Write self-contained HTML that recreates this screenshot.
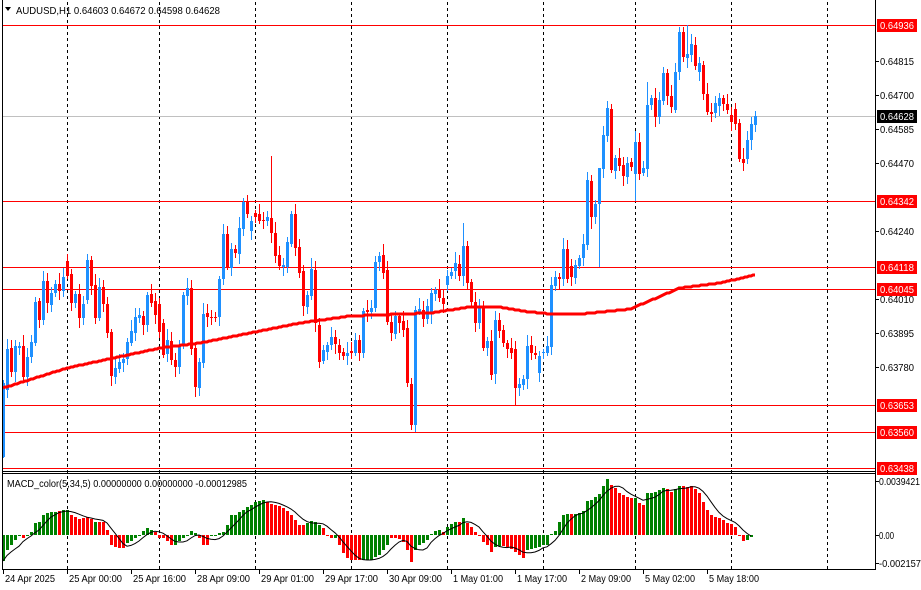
<!DOCTYPE html>
<html><head><meta charset="utf-8"><style>
html,body{margin:0;padding:0;background:#fff;width:921px;height:590px;overflow:hidden}
svg{display:block;font-family:"Liberation Sans",sans-serif}
</style></head><body>
<svg id="s" width="921" height="590" viewBox="0 0 921 590" xmlns="http://www.w3.org/2000/svg">
<rect width="921" height="590" fill="#fff"/>
<g id="grid" stroke="#000" stroke-width="1" stroke-dasharray="3,3"></g>
<g id="hl"></g>
<g id="cd"></g>
<polyline id="ma" fill="none" stroke="#ff0000" stroke-width="3"/>
<g id="mh"></g>
<polyline id="sig" fill="none" stroke="#000" stroke-width="1"/>
<g id="fr" fill="none" stroke="#000"></g>
<g id="tx" font-size="10.5" fill="#000"></g>
</svg>
<script>
var NS="http://www.w3.org/2000/svg";
function el(p,t,a,txt){var e=document.createElementNS(NS,t);for(var k in a)e.setAttribute(k,a[k]);if(txt!=null)e.textContent=txt;document.getElementById(p).appendChild(e);return e;}
[67,159,255,351,447,543,635,731,827].forEach(function(x){el("grid","line",{x1:x+.5,y1:2,x2:x+.5,y2:569});});
el("hl","line",{x1:3,y1:116.5,x2:875,y2:116.5,stroke:"#c0c0c0"});
[25,201,267,289,405,432,468].forEach(function(y){el("hl","line",{x1:3,y1:y+.5,x2:875,y2:y+.5,stroke:"#ff0000"});});
var C="383,457,b;349,390,b;348,372,r;346,372,b;346,348,b;346,377,r;357,377,b;342,357,b;302,343,b;301,320,r;281,320,b;281,303,r;293,305,b;284,293,b;284,291,r;277,291,b;261,276,r;274,303,r;294,303,b;294,318,r;304,318,b;260,300,b;260,286,r;285,318,r;287,318,b;287,304,r;304,333,r;332,376,r;368,377,b;362,369,b;359,363,b;342,359,b;331,343,b;317,333,b;315,318,b;316,325,r;295,325,b;294,303,r;301,315,r;304,332,r;323,355,r;340,354,b;341,360,r;360,367,r;345,367,b;295,345,b;288,296,b;288,349,r;348,387,r;362,388,b;314,363,b;313,317,r;317,318,r;317,318,r;279,317,b;234,279,b;234,267,r;249,268,b;249,253,r;228,254,b;202,229,b;202,214,r;221,231,b;213,217,r;214,221,r;220,221,r;217,221,b;218,233,r;233,256,r;255,266,r;265,267,b;242,267,b;214,244,b;214,248,r;247,273,r;271,306,r;295,307,b;269,296,b;270,323,r;325,362,r;350,361,b;345,352,b;337,345,b;337,344,r;345,353,r;352,356,r;353,356,b;351,353,r;340,353,b;340,353,r;311,353,b;310,312,r;308,312,b;262,308,b;256,262,b;255,273,r;270,322,r;322,333,r;316,334,b;316,323,r;321,330,r;328,383,r;384,425,r;310,425,b;309,312,b;310,319,r;306,319,b;293,314,b;290,294,b;289,298,r;298,304,r;276,285,b;272,276,b;263,271,b;264,276,r;246,276,b;246,283,r;282,302,r;302,323,r;307,323,b;307,348,r;341,348,b;341,375,r;320,374,b;320,331,r;330,343,r;343,349,r;348,353,r;349,388,r;384,388,b;379,385,b;346,379,b;345,353,r;353,355,r;356,373,b;352,353,b;346,353,b;285,347,b;277,286,b;277,279,r;249,279,b;249,279,r;266,277,r;265,278,b;258,266,b;244,258,b;180,245,b;181,217,r;204,217,b;168,204,b;135,169,b;108,136,b;109,170,r;158,171,b;158,166,r;165,176,r;163,177,b;162,167,r;142,174,b;142,174,r;168,173,b;105,169,b;98,105,b;98,117,r;100,117,b;73,101,b;73,96,r;96,107,r;72,110,b;32,72,b;32,57,r;54,58,b;44,55,b;45,66,r;63,72,b;65,94,r;94,112,r;112,114,r;103,113,b;98,106,b;98,104,r;104,110,r;115,122,r;109,124,r;123,159,r;159,163,r;140,159,b;124,140,b;116,125,b".split(";");
var hiO={271:156,599:180,463:223,647:82,679:27,687:25,243:198,335:330,107:297};
var loO={3:458,411:430,415:432,599:267,635:201,515:405,591:229,195:397};
C.forEach(function(s,i){var p=s.split(","),x=3+4*i,t=+p[0],b=+p[1],col=p[2]=="r"?"#ff0000":"#1e90ff";
 var w1=3+((i*7)%9),w2=3+((i*5)%8);var hi=hiO[x]||t-w1,lo=loO[x]||b+w2;
 el("cd","line",{x1:x+.5,y1:hi,x2:x+.5,y2:lo,stroke:col});
 el("cd","rect",{x:x-1,y:t,width:3,height:Math.max(1,b-t),fill:col});});
var mk=[[3,388],[67,368],[160,348],[200,343],[300,323],[350,316],[430,313],[470,307],[500,307],[530,312],[551,314],[580,314],[630,309],[680,288],[720,283],[755,275]];
var pts=[];for(var x=3;x<=755;x+=2){for(var j=0;j<mk.length-1;j++){if(x>=mk[j][0]&&x<=mk[j+1][0]){var f=(x-mk[j][0])/(mk[j+1][0]-mk[j][0]);pts.push(x+","+Math.round(mk[j][1]+f*(mk[j+1][1]-mk[j][1])));break;}}}
document.getElementById("ma").setAttribute("points",pts.join(" "));
var M1="-26g,-15g,-10g,-5g,0g,-3r,0g,3g,12g,13g,20g,22g,23g,23g,24r,25g,25g,20r,18r,16r,17r,18r,16r,13g,13r,13r,5r,-10r,-12r,-13r,-13r,-8g,-6g,-3g,0g,4g,7g,5g,3r,-3r,-3r,-6r,-10r,-10g,-6g,-3g,0g,4g,2g,-3r,-10r,-10r,0g,0g,2g,3g,10g,20g,20g,23g,25g,28g,30g,33g,34g,35g,33r,31r,30r,29r,27r,24r,20r,15r,10r,10r,12g,14g,13g,10g,7r,0r,-3r,-3g,-10r,-18r,-23r,-25r,-25r,-25r,-25g,-25g,-25g,-22g,-20g,-15g,-10g";
var M2="-3r,-3r,-4r,-7r,-15r,-27r,-15g,-10g,-8g,-5g,1g,4g,5g,3r,8g,11g,13g,13r,17g,12r,8r,3r,0r,-7r,-10r,-17r,-12g,-11g,-11r,-12r,-14r,-17r,-20r,-23r,-15g,-14g,-13g,-12g,-10g,-10g,1g,4g,13g,20g,21g,21r,21g,22g,24g,34g,35g,38g,41g,49g,56g,50r,47r,42r,40r,38r,37r,37g,32r,30r,42g,42g,43g,45g,47g,46r,43r,46g,49g,49r,48r,49r,46r,42r,33r,25r,20r,18r,17r,15r,12r,11r,8r,0r,-6r,-5g,-2g";
var H=M1.split(",").concat(M2.split(","));var vals=[];
H.forEach(function(s,i){var v=parseFloat(s),c=s.slice(-1)=="r"?"#ff0000":"#008000",x=3+4*i;vals.push(v);
 if(v==0){el("mh","line",{x1:x-1,y1:535.5,x2:x+2,y2:535.5,stroke:c});return;}
 el("mh","rect",{x:x-1,y:v>0?535-v:535,width:3,height:Math.abs(v),fill:c});});
var sp=[];for(var i=0;i<vals.length;i++){var s=0,n=0;for(var k=Math.max(0,i-4);k<=i;k++){s+=vals[k];n++;}var x=3+4*i;if(x<=755)sp.push(x+","+(535-s/n).toFixed(1));}
document.getElementById("sig").setAttribute("points",sp.join(" "));
el("fr","line",{x1:2.5,y1:0,x2:2.5,y2:570});
el("fr","line",{x1:875.5,y1:0,x2:875.5,y2:570});
el("fr","line",{x1:2,y1:471.5,x2:876,y2:471.5});
el("fr","line",{x1:2,y1:473.5,x2:876,y2:473.5});
el("fr","line",{x1:2,y1:569.5,x2:876,y2:569.5});
function T(x,y,t,len,fill){var a={x:x,y:y,textLength:len,lengthAdjust:"spacingAndGlyphs"};if(fill)a.fill=fill;el("tx","text",a,t);}
[[61,"0.64815"],[95,"0.64700"],[129,"0.64585"],[163,"0.64470"],[231,"0.64240"],[299,"0.64010"],[333,"0.63895"],[367,"0.63780"]].forEach(function(a){
 el("fr","line",{x1:876,y1:a[0]+.5,x2:879,y2:a[0]+.5});T(880,a[0]+4,a[1],34);});
[[25,"0.64936"],[201,"0.64342"],[267,"0.64118"],[289,"0.64045"],[405,"0.63653"],[432,"0.63560"],[468,"0.63438"]].forEach(function(a){
 el("tx","rect",{x:877,y:a[0]-6,width:40,height:13,fill:"#ff0000"});T(880,a[0]+4,a[1],34,"#fff");});
el("tx","rect",{x:877,y:110,width:40,height:13,fill:"#000"});T(880,120,"0.64628",34,"#fff");
[[481,"0.0039421",41],[535,"0.00",15],[563,"-0.002157",42]].forEach(function(a){el("fr","line",{x1:876,y1:a[0]+.5,x2:879,y2:a[0]+.5});T(879,a[0]+4,a[1],a[2]);});
var tl=[["24 Apr 2025",50],["25 Apr 00:00",53],["25 Apr 16:00",53],["28 Apr 09:00",53],["29 Apr 01:00",53],["29 Apr 17:00",53],["30 Apr 09:00",53],["1 May 01:00",50],["1 May 17:00",50],["2 May 09:00",50],["5 May 02:00",50],["5 May 18:00",50]];
tl.forEach(function(t,i){var x=3+64*i;el("fr","line",{x1:x+.5,y1:570,x2:x+.5,y2:574});T(x+2,582,t[0],t[1]);});
el("tx","path",{d:"M5 7 L11 7 L8 11 Z",fill:"#000"});
T(16,14,"AUDUSD,H1  0.64603 0.64672 0.64598 0.64628",204);
T(7,487,"MACD_color(5,34,5) 0.00000000 0.00000000 -0.00012985",240);
</script>
</body></html>
